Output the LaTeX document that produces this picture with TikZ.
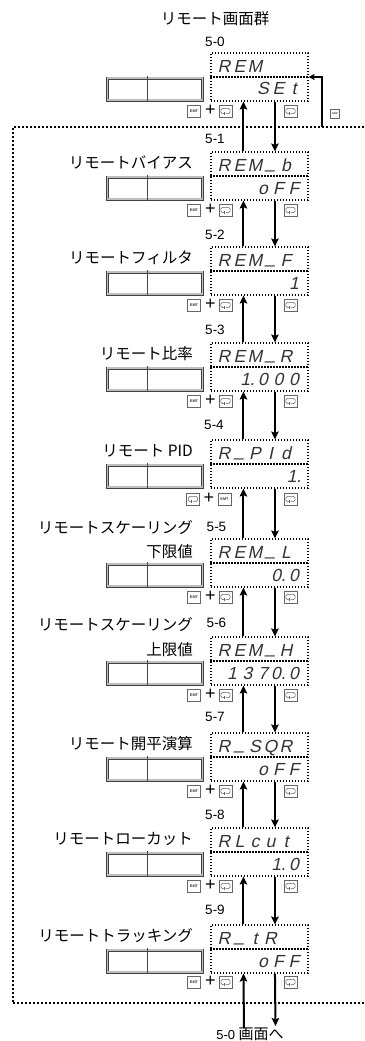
\documentclass[tikz,border=0pt]{standalone}
\usepackage{fontspec}
\setmainfont{Liberation Sans}
\newfontfamily\jp{Noto Sans CJK JP}
\newfontfamily\segf[FakeSlant=0.22]{Liberation Sans}
\usetikzlibrary{arrows.meta,calc}
\def\segcells#1{\ifx\relax#1\else\makebox[15.5pt][c]{#1}\expandafter\segcells\fi}
\def\segus{\raisebox{2.2pt}{\_}}
\tikzset{
 x=1pt, y=-1pt,
 disp/.style={draw, line width=1.1pt, dash pattern=on 1.1pt off 1.9pt, minimum width=97pt, minimum height=48pt, inner sep=0pt},
 dispdiv/.style={line width=1.1pt, dash pattern=on 1.1pt off 1.9pt},
 segtxt/.style={font=\segf\fontsize{17.5}{18}\selectfont, text=black!80, inner sep=0pt},
 panel/.style={draw=black!75, double=gray!50, double distance=1.5pt, line width=0.75pt, minimum width=95pt, minimum height=22pt, inner sep=0pt},
 paneldiv/.style={line width=1.8pt, draw=black!72},
 jpl/.style={font=\jp\fontsize{15.5}{17}\selectfont, inner sep=0pt, anchor=east},
 stepl/.style={font=\fontsize{13.5}{15}\selectfont, inner sep=0pt},
 key/.style={draw=black!60, line width=0.6pt, minimum width=13pt, minimum height=12pt, inner sep=0pt, fill=white},
 emtkey/.style={key, font=\fontsize{3.8}{4}\selectfont\bfseries, text=black!80},
 grpkey/.style={key, minimum width=9pt, minimum height=9pt, font=\fontsize{2.6}{3}\selectfont\bfseries, text=black!80},
 retkey/.style={key, path picture={
   \draw[line width=0.55pt, rounded corners=1.5pt] ([shift={(-1pt,-2.6pt)}]path picture bounding box.center) -- ++(-3.6pt,0pt) -- ++(0pt,5.2pt) -- ++(9.2pt,0pt) -- ++(0pt,-5.2pt) -- ++(-4.4pt,0pt);
   \draw[line width=0.55pt] ([shift={(-1.3pt,-1.4pt)}]path picture bounding box.center) -- ++(0pt,-2.6pt);}},
 plus/.style={font=\fontsize{18}{18}\selectfont, inner sep=0pt},
 bigarrow/.style={line width=2pt, -{Stealth[length=8pt,width=7.5pt,inset=1.5pt]}},
 thinarrow/.style={line width=1.1pt, -{Stealth[length=6pt,width=6pt,inset=1pt]}},
 frame/.style={line width=2pt, dash pattern=on 2pt off 2pt},
}
\newcommand\screenbox[4]{%
 \node[disp] (#1) at (259.5,#2+24) {};
 \draw[dispdiv] (#1.west) -- (#1.east);
 \node[segtxt, anchor=base west] (#1t) at (216,#2+19) {\segcells#3\relax};
 \node[segtxt, anchor=base east] (#1b) at (302,#2+42) {\segcells#4\relax};
 \node[panel] (#1p) at (155,#2+36) {};
 \draw[paneldiv] ($(#1p.north)+(-7.5,-1.4)$) -- ($(#1p.south)+(-7.5,1.4)$);
}
\newcommand\keysA[2]{%
 \node[emtkey] (#1e) at (194,#2+58) {EMT};
 \node[plus] (#1pl) at (210.5,#2+57.5) {+};
 \node[retkey] (#1r) at (225.5,#2+58) {};
 \node[retkey] (#1rr) at (290.5,#2+58) {};
}
\newcommand\linkscr[2]{%
 \draw[bigarrow] ($(#2.north west)+(33,0)$) -- ($(#1.south west)+(33,0)$);
 \draw[bigarrow] ($(#1.south west)+(64.5,0)$) -- ($(#2.north west)+(64.5,0)$);
}
\begin{document}
\begin{tikzpicture}
\useasboundingbox (0,0) rectangle (364,1041);
% outer group frame
\draw[frame] (364,126.5) -- (13,126.5) -- (13,1003) -- (364,1003);
\coordinate (fr) at (322,126.5);

\node[jpl, anchor=center] (title) at (215,19) {リモート画面群};
\node[stepl] (l0) at (215,42) {5-0};

\screenbox{s0}{53}{REM}{SEt}
\screenbox{s1}{152}{REM\segus b}{oFF}
\screenbox{s2}{247}{REM\segus F}{1}
\screenbox{s3}{343}{REM\segus R}{{1.}000}
\screenbox{s4}{440}{R\segus PId}{{1.}}
\screenbox{s5}{539}{REM\segus L}{{0.}0}
\screenbox{s6}{637}{REM\segus H}{137{0.}0}
\screenbox{s7}{733}{R\segus SQR}{oFF}
\screenbox{s8}{828}{RLcut}{{1.}0}
\screenbox{s9}{925}{R\segus tR}{oFF}

% labels
\node[jpl] (n1) at (193,162.5) {リモートバイアス};
\node[jpl] (n2) at (193,257.5) {リモートフィルタ};
\node[jpl] (n3) at (193,354) {リモート比率};
\node[jpl] (n4) at (193,450.5) {リモート PID};
\node[jpl] (n5a) at (193,527.5) {リモートスケーリング};
\node[jpl] (n5b) at (193,552) {下限値};
\node[jpl] (n6a) at (193,625) {リモートスケーリング};
\node[jpl] (n6b) at (193,650) {上限値};
\node[jpl] (n7) at (193,743.5) {リモート開平演算};
\node[jpl] (n8) at (193,838.5) {リモートローカット};
\node[jpl] (n9) at (193,935.5) {リモートトラッキング};

% step numbers
\node[stepl] (l1) at (215,139) {5-1};
\node[stepl] (l2) at (215,235) {5-2};
\node[stepl] (l3) at (215,330) {5-3};
\node[stepl] (l4) at (214,425) {5-4};
\node[stepl] (l5) at (216.5,527) {5-5};
\node[stepl] (l6) at (216.5,623) {5-6};
\node[stepl] (l7) at (215,717) {5-7};
\node[stepl] (l8) at (215,815) {5-8};
\node[stepl] (l9) at (215,910) {5-9};

% keys
\keysA{k0}{53}
\keysA{k1}{152}
\keysA{k2}{247}
\keysA{k3}{343}
\node[retkey] (k4r) at (193,499) {};
\node[plus] (k4pl) at (209,498.5) {+};
\node[emtkey] (k4e) at (224.5,499) {EMT};
\node[retkey] (k4rr) at (290.5,499) {};
\keysA{k5}{539}
\keysA{k6}{637}
\keysA{k7}{733}
\keysA{k8}{828}
\keysA{k9}{924}
\node[grpkey] (grp) at (335,113.5) {GRP};

% arrows
\draw[thinarrow] (fr) |- (s0.east);
\linkscr{s0}{s1}
\linkscr{s1}{s2}
\linkscr{s2}{s3}
\linkscr{s3}{s4}
\linkscr{s4}{s5}
\linkscr{s5}{s6}
\linkscr{s6}{s7}
\linkscr{s7}{s8}
\linkscr{s8}{s9}
\coordinate (e1) at (244,1028);
\coordinate (e2) at (275.5,1026);
\draw[bigarrow] (e1) -- ($(s9.south west)+(33,0)$);
\draw[bigarrow] ($(s9.south west)+(64.5,0)$) -- (e2);
\node[font=\fontsize{13}{14}\selectfont, inner sep=0pt] (goto) at (250,1034) {5-0 {\jp\fontsize{15}{16}\selectfont 画面へ}};
\end{tikzpicture}
\end{document}
